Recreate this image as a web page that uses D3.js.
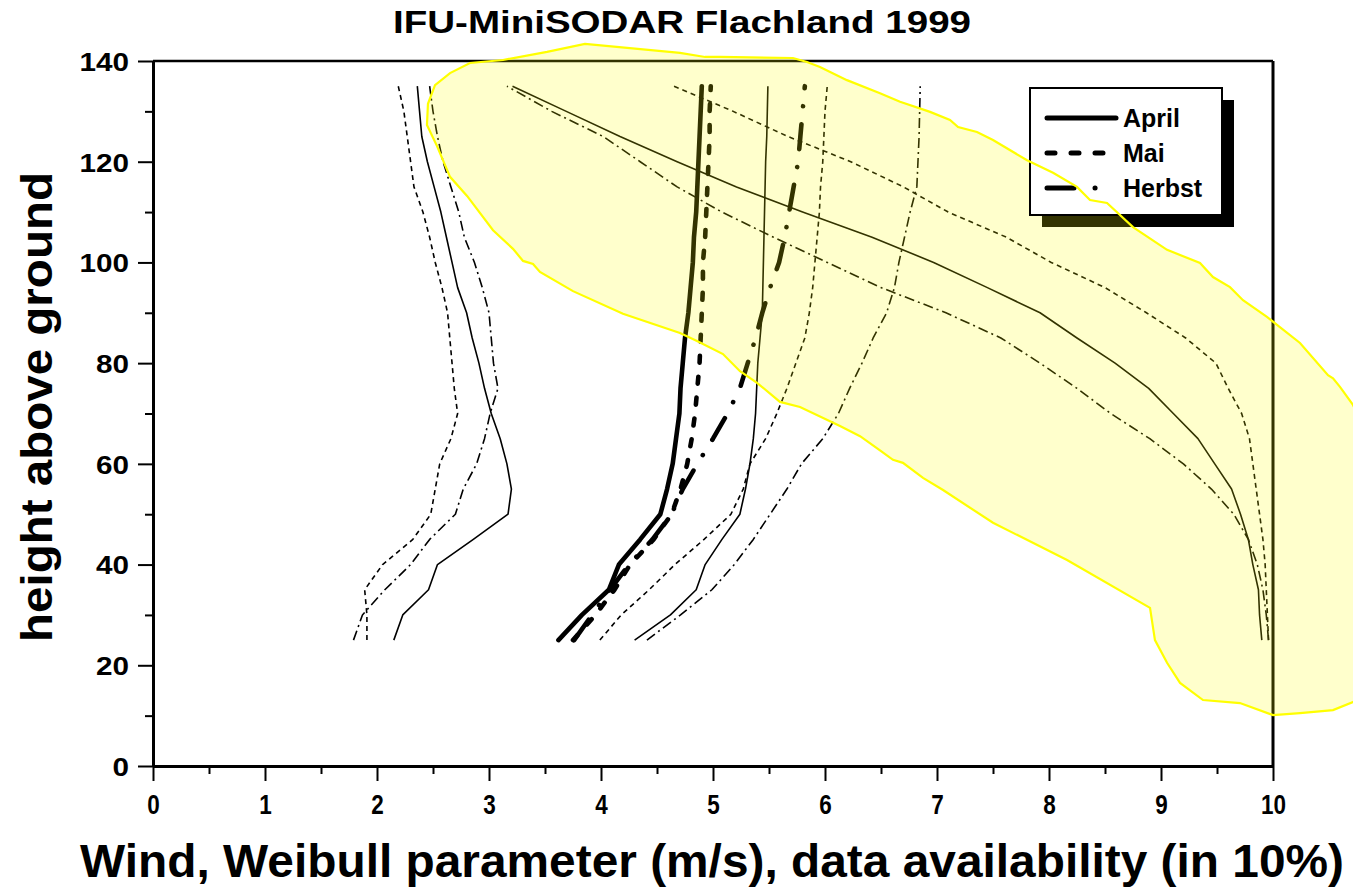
<!DOCTYPE html>
<html>
<head>
<meta charset="utf-8">
<script src="https://cdn.jsdelivr.net/npm/d3@7"></script>
<style>
  html, body { margin: 0; padding: 0; background: #fff; }
  svg { display: block; }
  text { font-family: "Liberation Sans", Arial, sans-serif; font-weight: bold; fill: #000; }
</style>
</head>
<body>
<svg id="chart" width="1353" height="889"></svg>
<script>
// Measurement heights of the SODAR (m above ground)
const heights = [25, 30, 35, 40, 45, 50, 55, 60, 65, 70, 75, 80, 85, 90, 95, 100, 105, 110, 115, 120, 125, 130, 135];

// Weibull shape parameter k
const kApril  = [2.15, 2.23, 2.46, 2.54, 2.86, 3.17, 3.20, 3.16, 3.10, 3.02, 2.96, 2.91, 2.85, 2.80, 2.72, 2.67, 2.62, 2.57, 2.51, 2.45, 2.40, 2.38, 2.36];
const kMai    = [1.91, 1.91, 1.89, 2.05, 2.32, 2.48, 2.52, 2.56, 2.66, 2.72, 2.69, 2.67, 2.65, 2.63, 2.58, 2.52, 2.47, 2.41, 2.33, 2.30, 2.27, 2.24, 2.19];
const kHerbst = [1.79, 1.87, 2.07, 2.30, 2.47, 2.70, 2.77, 2.89, 2.96, 3.01, 3.08, 3.04, 3.02, 3.00, 2.94, 2.87, 2.78, 2.73, 2.66, 2.59, 2.54, 2.50, 2.47];

// Mean wind speed (m/s)
const vApril  = [3.62, 3.83, 4.07, 4.16, 4.35, 4.53, 4.59, 4.64, 4.67, 4.70, 4.71, 4.73, 4.75, 4.78, 4.80, 4.82, 4.83, 4.85, 4.86, 4.87, 4.88, 4.89, 4.90];
const vMai    = [3.75, 3.95, 4.12, 4.26, 4.47, 4.63, 4.71, 4.77, 4.81, 4.84, 4.86, 4.88, 4.89, 4.90, 4.91, 4.91, 4.93, 4.94, 4.95, 4.96, 4.97, 4.97, 4.98];
const vHerbst = [3.76, 3.92, 4.08, 4.25, 4.46, 4.63, 4.73, 4.86, 5.00, 5.13, 5.24, 5.31, 5.38, 5.44, 5.51, 5.59, 5.64, 5.68, 5.72, 5.76, 5.78, 5.80, 5.82];

// Weibull scale parameter A (m/s)
const aApril  = [4.30, 4.62, 4.85, 4.93, 5.08, 5.24, 5.29, 5.33, 5.36, 5.38, 5.39, 5.40, 5.42, 5.44, 5.445, 5.45, 5.455, 5.46, 5.465, 5.47, 5.48, 5.485, 5.49];
const aMai    = [3.99, 4.18, 4.43, 4.66, 4.92, 5.16, 5.27, 5.33, 5.47, 5.57, 5.66, 5.74, 5.82, 5.86, 5.89, 5.91, 5.93, 5.95, 5.96, 5.98, 5.99, 6.00, 6.02];
const aHerbst = [4.41, 4.71, 4.99, 5.19, 5.36, 5.51, 5.66, 5.79, 5.98, 6.12, 6.22, 6.33, 6.43, 6.55, 6.62, 6.66, 6.71, 6.76, 6.82, 6.83, 6.84, 6.845, 6.85];

// Data availability (in 10 %)
const dApril  = [9.90, 9.88, 9.87, 9.82, 9.78, 9.71, 9.63, 9.48, 9.33, 9.11, 8.89, 8.59, 8.25, 7.92, 7.45, 6.97, 6.42, 5.80, 5.21, 4.68, 4.17, 3.69, 3.21];
const dMai    = [9.96, 9.95, 9.94, 9.93, 9.91, 9.88, 9.85, 9.82, 9.79, 9.72, 9.60, 9.49, 9.22, 8.87, 8.50, 8.02, 7.62, 7.10, 6.70, 6.23, 5.67, 5.18, 4.65];
const dHerbst = [9.96, 9.94, 9.91, 9.86, 9.78, 9.65, 9.45, 9.20, 8.90, 8.55, 8.25, 7.92, 7.57, 7.08, 6.50, 6.02, 5.54, 5.08, 4.68, 4.35, 4.02, 3.56, 3.16];

// Outline of the shaded (yellow) region: x value and height
const envX = [2.446, 2.455, 2.518, 2.652, 2.830, 3.125, 3.518, 3.857, 4.705, 4.929, 5.063, 5.714, 5.839, 5.955, 6.196, 6.491, 6.670, 6.938, 7.116, 7.188, 7.357, 7.500, 7.804, 8.036, 8.250, 8.366, 8.518, 8.750, 9.054, 9.348, 9.464, 9.616, 9.732, 9.946, 10.036, 10.241, 10.491, 10.536, 10.598, 10.714, 10.866,
              10.866, 10.714, 10.536, 10.241, 10.000, 9.705, 9.375, 9.170, 9.054, 8.946, 8.902, 8.161, 7.500, 7.054, 6.875, 6.696, 6.607, 6.491, 6.313, 6.134, 5.777, 5.598, 5.393, 5.241, 5.089, 4.857, 4.705, 4.196, 3.750, 3.455, 3.393, 3.304, 3.214, 3.036, 2.804, 2.652, 2.536];
const envH = [127.3, 131.5, 135.2, 137.6, 139.6, 140.2, 141.8, 143.4, 141.6, 140.8, 140.8, 140.6, 139.8, 138.8, 136.2, 133.6, 131.9, 129.9, 128.3, 126.9, 125.9, 124.3, 120.3, 117.8, 115.0, 112.4, 111.8, 107.0, 102.5, 99.9, 97.1, 95.1, 92.5, 89.2, 87.6, 84.0, 77.6, 77.0, 75.3, 71.7, 64.7,
              14.1, 12.7, 11.1, 10.5, 10.1, 12.5, 13.1, 16.5, 20.5, 25.0, 31.4, 40.9, 48.3, 54.8, 57.2, 60.2, 60.8, 62.7, 65.5, 67.5, 71.3, 72.3, 76.1, 78.4, 81.8, 84.4, 86.0, 89.8, 94.3, 98.1, 99.7, 100.3, 102.7, 106.4, 113.2, 117.0, 123.1];

// Axis ticks and labels
const xMajor = [0, 1, 2, 3, 4, 5, 6, 7, 8, 9, 10];
const xMinor = [0.5, 1.5, 2.5, 3.5, 4.5, 5.5, 6.5, 7.5, 8.5, 9.5];
const yMajor = [0, 20, 40, 60, 80, 100, 120, 140];
const yMinor = [10, 30, 50, 70, 90, 110, 130];

const titleText = "IFU-MiniSODAR Flachland 1999";
const xTitle = "Wind, Weibull parameter (m/s), data availability (in 10%)";
const yTitle = "height above ground";
const legendNames = ["April", "Mai", "Herbst"];

const svg = d3.select("#chart");
const x = d3.scaleLinear().domain([0, 10]).range([153, 1273]);
const y = d3.scaleLinear().domain([0, 140]).range([766, 61]);

// line styles per month: thin and thick variants
const thinStyle = {
  April:  { dash: null },
  Mai:    { dash: "5,4" },
  Herbst: { dash: "10,4,2,4" }
};
const thickStyle = {
  April:  { dash: null },
  Mai:    { dash: "7,14" },
  Herbst: { dash: "25,18,0.1,18" }
};

const series = [
  { name: "April",  vals: kApril,  thick: false },
  { name: "Mai",    vals: kMai,    thick: false },
  { name: "Herbst", vals: kHerbst, thick: false },
  { name: "April",  vals: aApril,  thick: false },
  { name: "Mai",    vals: aMai,    thick: false },
  { name: "Herbst", vals: aHerbst, thick: false },
  { name: "April",  vals: dApril,  thick: false },
  { name: "Mai",    vals: dMai,    thick: false },
  { name: "Herbst", vals: dHerbst, thick: false },
  { name: "April",  vals: vApril,  thick: true },
  { name: "Mai",    vals: vMai,    thick: true },
  { name: "Herbst", vals: vHerbst, thick: true }
];

// ---- frame (top and right edges of the plot box)
svg.append("line").attr("x1", x(0)).attr("x2", x(10)).attr("y1", y(140)).attr("y2", y(140))
  .attr("stroke", "#000").attr("stroke-width", 2.5);
svg.append("line").attr("x1", x(10)).attr("x2", x(10)).attr("y1", y(140)).attr("y2", y(0))
  .attr("stroke", "#000").attr("stroke-width", 3);

// ---- axes
const yAxis = svg.append("g").attr("transform", `translate(${x(0)},0)`)
  .call(d3.axisLeft(y).tickValues(yMajor).tickSize(15).tickSizeOuter(0).tickPadding(10));
const yAxisMinor = svg.append("g").attr("transform", `translate(${x(0)},0)`)
  .call(d3.axisLeft(y).tickValues(yMinor).tickSize(8).tickSizeOuter(0).tickFormat(""));
const xAxis = svg.append("g").attr("transform", `translate(0,${y(0)})`)
  .call(d3.axisBottom(x).tickValues(xMajor).tickSize(15).tickSizeOuter(0).tickPadding(9));
const xAxisMinor = svg.append("g").attr("transform", `translate(0,${y(0)})`)
  .call(d3.axisBottom(x).tickValues(xMinor).tickSize(8).tickSizeOuter(0).tickFormat(""));

[yAxis, yAxisMinor, xAxis, xAxisMinor].forEach(g => {
  g.select(".domain").attr("stroke", "#000").attr("stroke-width", 3);
  g.selectAll(".tick line").attr("stroke", "#000").attr("stroke-width", 2);
});
yAxis.selectAll(".tick text")
  .style("font-size", "26px").style("font-family", "'Liberation Sans', Arial, sans-serif")
  .style("font-weight", "bold").attr("fill", "#000").attr("x", -24).attr("dy", "0.36em")
  .each(function (d) {
    const s = String(d);
    d3.select(this).attr("textLength", 16.5 * s.length).attr("lengthAdjust", "spacingAndGlyphs");
  });
xAxis.selectAll(".tick text")
  .style("font-size", "28px").style("font-family", "'Liberation Sans', Arial, sans-serif")
  .style("font-weight", "bold").attr("fill", "#000").attr("dy", "0.85em")
  .each(function (d) {
    const s = String(d);
    d3.select(this).attr("textLength", 12.5 * s.length).attr("lengthAdjust", "spacingAndGlyphs");
  });

// ---- data lines
const line = d3.line().x(d => x(d.v)).y(d => y(d.h));
const linesG = svg.append("g");
series.forEach(s => {
  const pts = heights.map((h, i) => ({ h: h, v: s.vals[i] }));
  const st = s.thick ? thickStyle[s.name] : thinStyle[s.name];
  const p = linesG.append("path").datum(pts).attr("d", line)
    .attr("fill", "none").attr("stroke", "#000")
    .attr("stroke-width", s.thick ? 4.6 : 1.6)
    .attr("stroke-linejoin", "round")
    .attr("stroke-linecap", s.thick ? "round" : "butt");
  if (st.dash) p.attr("stroke-dasharray", st.dash);
});

// ---- legend geometry
const lg = { x0: 1030, y0: 88, w: 192, h: 127, shadow: 12 };
svg.append("rect").attr("x", lg.x0 + lg.shadow).attr("y", lg.y0 + lg.shadow)
  .attr("width", lg.w).attr("height", lg.h).attr("fill", "#000");

// ---- shaded region (translucent yellow over the lines)
const env = envX.map((v, i) => ({ v: v, h: envH[i] }));
const area = d3.line().x(d => x(d.v)).y(d => y(d.h)).curve(d3.curveLinearClosed);
svg.append("path").datum(env).attr("d", area)
  .attr("fill", "#ffff00").attr("fill-opacity", 0.2).attr("stroke", "none");

// ---- legend box and entries
svg.append("rect").attr("x", lg.x0).attr("y", lg.y0).attr("width", lg.w).attr("height", lg.h)
  .attr("fill", "#fff").attr("stroke", "#000").attr("stroke-width", 2);
const legDash = { April: null, Mai: "8,16", Herbst: "27,21,0.1,21,0.1,200" };
legendNames.forEach((n, i) => {
  const yy = 118 + i * 35;
  const l = svg.append("line").attr("x1", 1047).attr("x2", 1116).attr("y1", yy).attr("y2", yy)
    .attr("stroke", "#000").attr("stroke-width", 5).attr("stroke-linecap", "round");
  if (legDash[n]) l.attr("stroke-dasharray", legDash[n]);
  svg.append("text").attr("x", 1123).attr("y", yy + 9).style("font-size", "25px").text(n);
});

// ---- outline of the shaded region
svg.append("path").datum(env).attr("d", area)
  .attr("fill", "none").attr("stroke", "#ffff00").attr("stroke-width", 2.2);

// ---- titles
svg.append("text").attr("x", 682).attr("y", 33).attr("text-anchor", "middle")
  .style("font-size", "31px").attr("textLength", 578).attr("lengthAdjust", "spacingAndGlyphs")
  .text(titleText);
svg.append("text").attr("x", 712).attr("y", 877).attr("text-anchor", "middle")
  .style("font-size", "47px").attr("textLength", 1264).attr("lengthAdjust", "spacingAndGlyphs")
  .text(xTitle);
svg.append("text").attr("transform", "translate(52,407) rotate(-90)").attr("text-anchor", "middle")
  .style("font-size", "45px").attr("textLength", 470).attr("lengthAdjust", "spacingAndGlyphs")
  .text(yTitle);
</script>
</body>
</html>
